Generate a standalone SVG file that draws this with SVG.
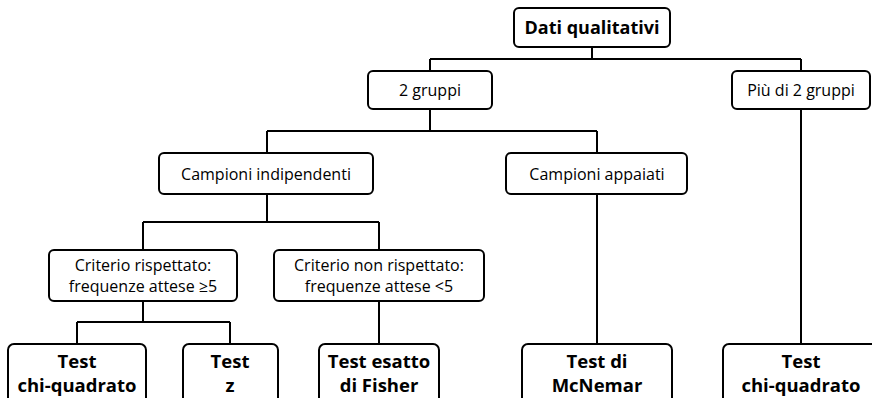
<svg xmlns="http://www.w3.org/2000/svg" width="872" height="398" viewBox="0 0 872 398">
<style>
.box{fill:#fff;stroke:#000;stroke-width:2}
.ln{fill:none;stroke:#000;stroke-width:2}
text{font-family:"Open Sans","Liberation Sans",sans-serif;text-anchor:middle;fill:#000}
.n{font-size:16px}
.b{font-size:18.5px;font-weight:bold}
.t{font-size:18px;font-weight:bold}
</style>
<rect width="872" height="398" fill="#fff"/>
<g id="connectors">
<path class="ln" d="M592 47V59M430 59H801M430 59V71M801 59V71"/>
<path class="ln" d="M430 109V131M267 131H597M267 131V153M597 131V153"/>
<path class="ln" d="M267 194V222M143 222H379M143 222V250M379 222V250"/>
<path class="ln" d="M143 301V322M77 322H230M77 322V344M230 322V344"/>
<path class="ln" d="M379 301V344"/>
<path class="ln" d="M597 194V344"/>
<path class="ln" d="M801 109V344"/>
</g>
<g id="dati"><rect class="box" x="514" y="8" width="156" height="39" rx="5"/><text class="t" x="592" y="34">Dati qualitativi</text></g>
<g id="due"><rect class="box" x="368" y="71" width="124" height="38" rx="5"/><text class="n" x="430" y="96">2 gruppi</text></g>
<g id="piu"><rect class="box" x="732" y="71" width="138" height="38" rx="5"/><text class="n" x="801" y="96">Più di 2 gruppi</text></g>
<g id="indip"><rect class="box" x="159" y="153" width="214" height="41" rx="5"/><text class="n" x="266" y="180">Campioni indipendenti</text></g>
<g id="appa"><rect class="box" x="506" y="153" width="181" height="41" rx="5"/><text class="n" x="597" y="180">Campioni appaiati</text></g>
<g id="crit1"><rect class="box" x="49" y="250" width="188" height="51" rx="5"/><text class="n" x="143" y="271">Criterio rispettato:</text><text class="n" x="143" y="292">frequenze attese ≥5</text></g>
<g id="crit2"><rect class="box" x="274" y="250" width="210" height="51" rx="5"/><text class="n" x="379" y="271">Criterio non rispettato:</text><text class="n" x="379" y="292">frequenze attese &lt;5</text></g>
<g id="chi1"><rect class="box" x="8" y="344" width="138" height="70" rx="6"/><text class="b" x="77" y="368">Test</text><text class="b" x="77" y="392">chi-quadrato</text></g>
<g id="z"><rect class="box" x="183" y="344" width="95" height="70" rx="6"/><text class="b" x="230" y="368">Test</text><text class="b" x="230" y="392">z</text></g>
<g id="fisher"><rect class="box" x="319" y="344" width="120" height="70" rx="6"/><text class="b" x="379" y="368">Test esatto</text><text class="b" x="379" y="392">di Fisher</text></g>
<g id="mcnemar"><rect class="box" x="522" y="344" width="150" height="70" rx="6"/><text class="b" x="597" y="368">Test di</text><text class="b" x="597" y="392">McNemar</text></g>
<g id="chi2"><rect class="box" x="723" y="344" width="156" height="70" rx="6"/><text class="b" x="801" y="368">Test</text><text class="b" x="801" y="392">chi-quadrato</text></g>
</svg>
